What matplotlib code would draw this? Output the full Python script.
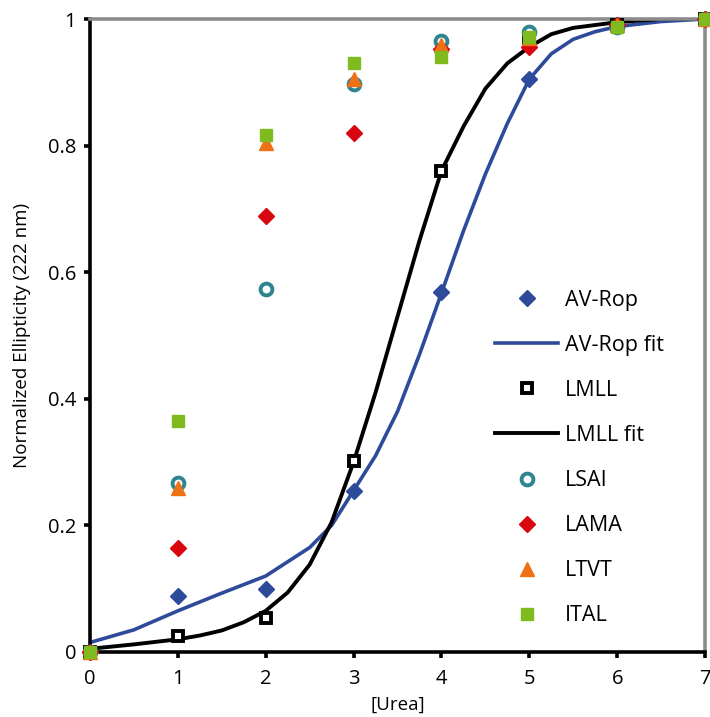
import matplotlib
matplotlib.use("Agg")
import matplotlib.pyplot as plt

plt.rcParams['font.family'] = ['Open Sans', 'DejaVu Sans']

urea = [0, 1, 2, 3, 4, 5, 6, 7]
av_rop = [0.0, 0.089, 0.099, 0.255, 0.569, 0.905, 0.99, 1.0]
lmll = [0.0, 0.025, 0.054, 0.302, 0.76, 0.97, 0.99, 1.0]
lsai = [0.0, 0.267, 0.573, 0.897, 0.965, 0.98, 0.988, 1.0]
lama = [0.0, 0.164, 0.689, 0.82, 0.953, 0.955, 0.99, 1.0]
ltvt = [0.0, 0.259, 0.804, 0.905, 0.959, 0.97, 0.99, 1.0]
ital = [0.0, 0.365, 0.817, 0.93, 0.94, 0.972, 0.988, 1.0]

av_fit_x = [0, 0.5, 1, 1.5, 2, 2.5, 2.75, 3, 3.25, 3.5, 3.75, 4, 4.25, 4.5,
            4.75, 5, 5.25, 5.5, 5.75, 6, 6.5, 7]
av_fit_y = [0.015, 0.035, 0.065, 0.093, 0.12, 0.165, 0.2, 0.255, 0.31, 0.38,
            0.47, 0.567, 0.665, 0.755, 0.835, 0.905, 0.945, 0.968, 0.98,
            0.988, 0.996, 1.0]
lm_fit_x = [0, 0.5, 1, 1.25, 1.5, 1.75, 2, 2.25, 2.5, 2.75, 3, 3.25, 3.5,
            3.75, 4, 4.25, 4.5, 4.75, 5, 5.25, 5.5, 6, 6.5, 7]
lm_fit_y = [0.005, 0.012, 0.02, 0.026, 0.034, 0.047, 0.065, 0.094, 0.138,
            0.205, 0.3, 0.41, 0.53, 0.65, 0.76, 0.83, 0.89, 0.93, 0.956,
            0.976, 0.986, 0.995, 1.0, 1.0]

blue = '#2E4B9B'
fig = plt.figure(figsize=(7.1, 7.17), dpi=100)
ax = fig.add_axes([0.1268, 0.0907, 0.8662, 0.8828])

ax.plot(urea, av_rop, linestyle='none', marker='D', ms=8, color=blue,
        label='AV-Rop', clip_on=False, zorder=3)
ax.plot(av_fit_x, av_fit_y, color=blue, lw=2.6, label='AV-Rop fit', zorder=2)
ax.plot(urea, lmll, linestyle='none', marker='s', ms=7.5, mfc='white',
        mec='black', mew=2.8, label='LMLL', clip_on=False, zorder=3)
ax.plot(lm_fit_x, lm_fit_y, color='black', lw=2.8, label='LMLL fit', zorder=2)
ax.plot(urea, lsai, linestyle='none', marker='o', ms=8.5, mfc='white',
        mec='#2E8590', mew=2.8, label='LSAI', clip_on=False, zorder=3)
ax.plot(urea, lama, linestyle='none', marker='D', ms=8, color='#D7060F',
        label='LAMA', clip_on=False, zorder=3)
ax.plot(urea, ltvt, linestyle='none', marker='^', ms=10, color='#EE7115',
        label='LTVT', clip_on=False, zorder=3)
ax.plot(urea, ital, linestyle='none', marker='s', ms=9, color='#7FBA1F',
        label='ITAL', clip_on=False, zorder=3)

ax.set_xlim(0, 7)
ax.set_ylim(0, 1)
ax.set_xticks(range(8))
ax.set_yticks([0, 0.2, 0.4, 0.6, 0.8, 1.0])
ax.set_yticklabels(['0', '0.2', '0.4', '0.6', '0.8', '1'])

for s in ['left', 'bottom']:
    ax.spines[s].set_color('black')
    ax.spines[s].set_linewidth(2.6)
for s in ['top', 'right']:
    ax.spines[s].set_color('#8C8C8C')
    ax.spines[s].set_linewidth(2.6)
ax.tick_params(direction='out', length=4, width=2.6, labelsize=14.5,
               colors='black')
ax.tick_params(axis='x', pad=8)
ax.tick_params(axis='y', pad=6)

ax.set_xlabel('[Urea]', fontsize=13.5, labelpad=5)
ax.set_ylabel('Normalized Ellipticity (222 nm)', fontsize=13.5, labelpad=12)

leg = ax.legend(loc='upper left', bbox_to_anchor=(0.645, 0.586), frameon=False,
                fontsize=15.5, labelspacing=1.12, handlelength=2.9,
                handletextpad=0.35, borderaxespad=0)

fig.savefig('out.png', dpi=100, facecolor='white')
